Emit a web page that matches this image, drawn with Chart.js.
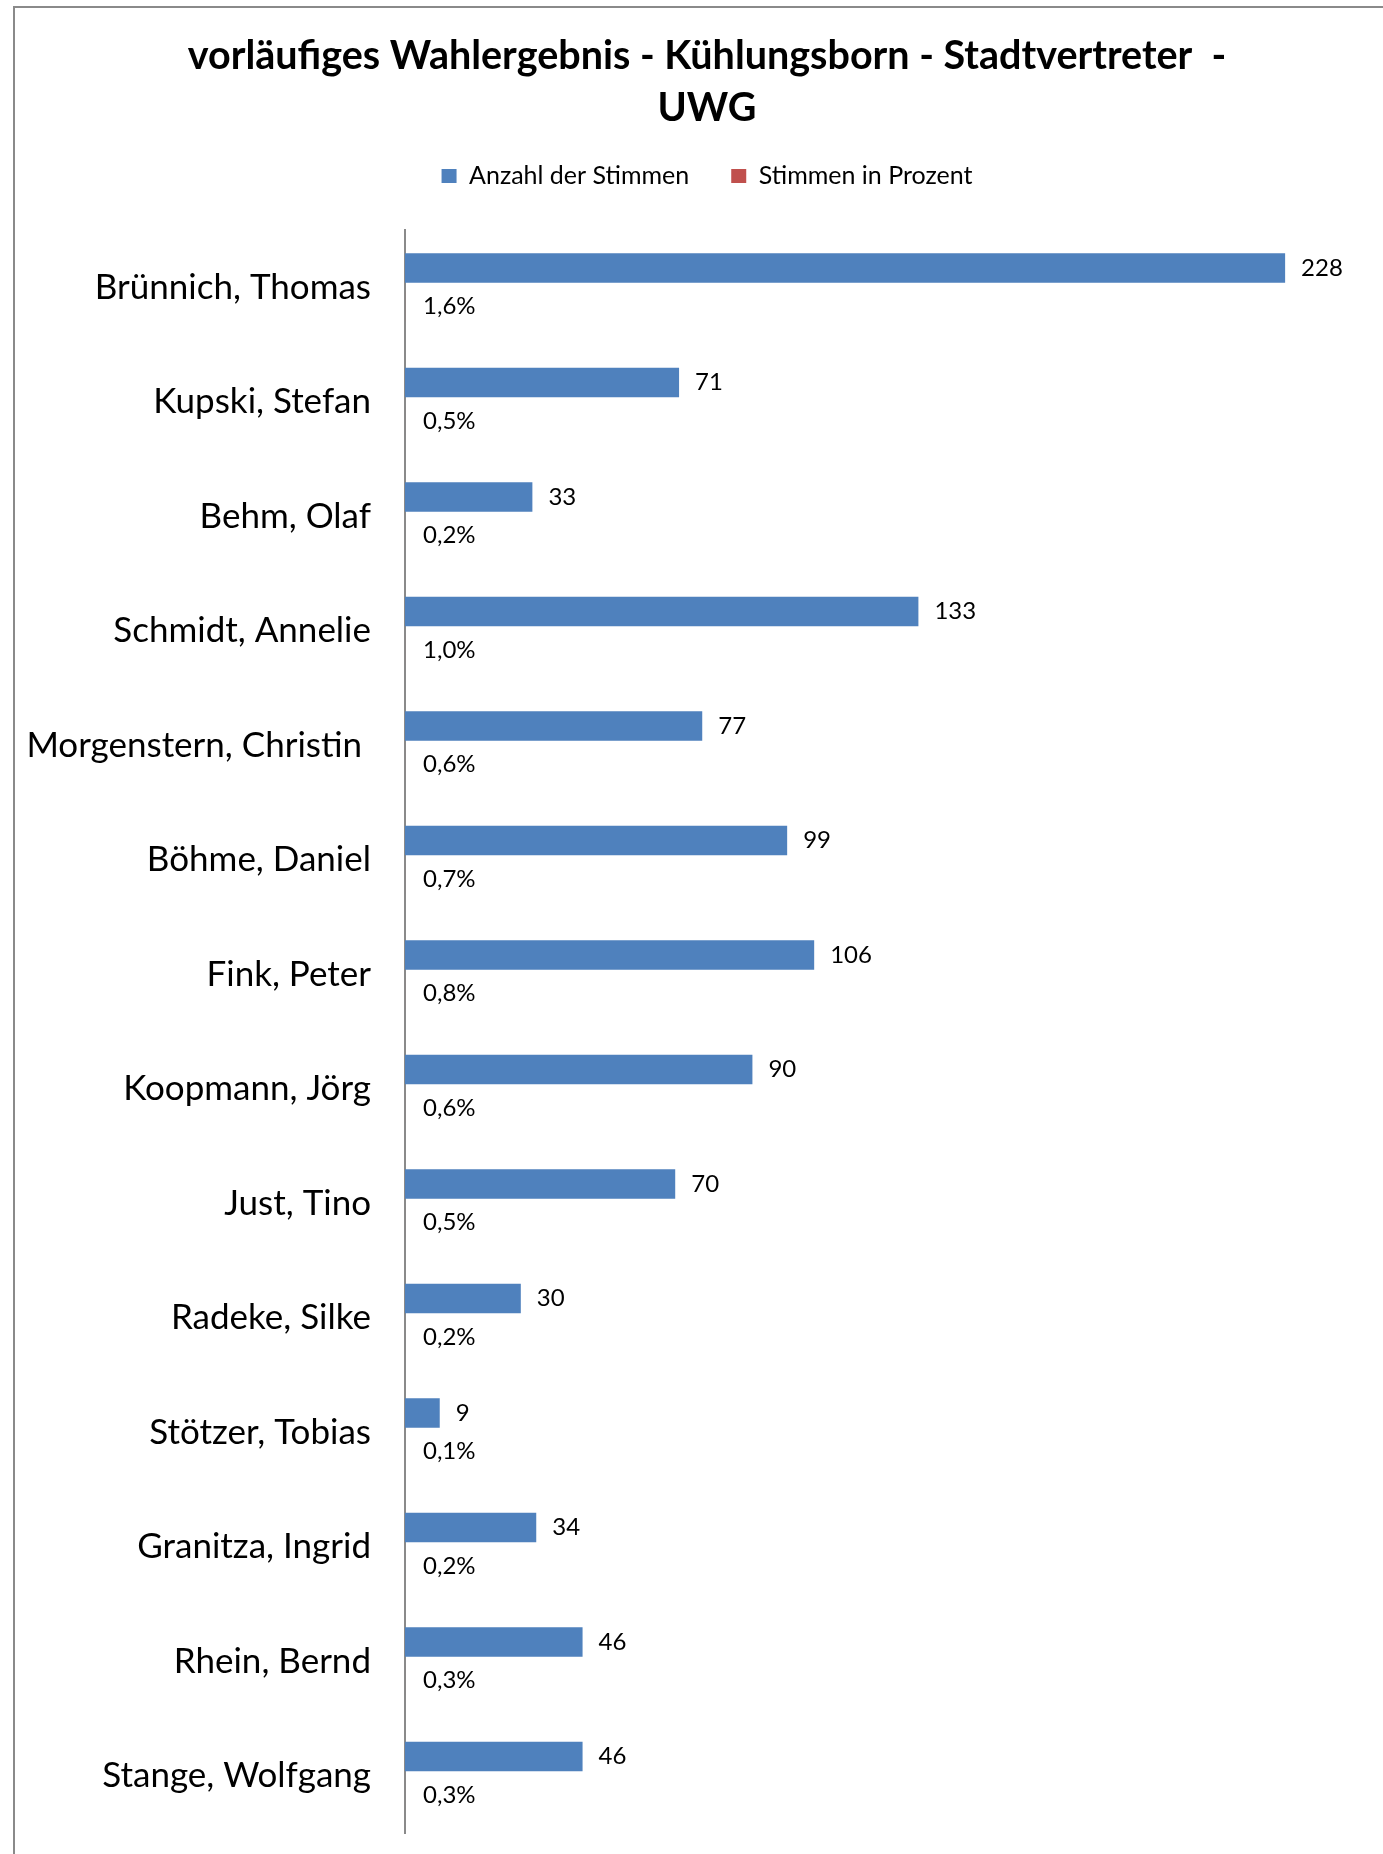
<!DOCTYPE html>
<html>
<head>
<meta charset="utf-8">
<script src="https://cdn.jsdelivr.net/npm/chart.js@4"></script>
<style>
  html, body { margin: 0; padding: 0; background: #fff; overflow: hidden; }
  #frame {
    position: absolute; left: 13px; top: 6px;
    width: 1400px; height: 1900px;
    border-left: 2px solid #8a8a8a; border-top: 2px solid #8a8a8a;
  }
  #wrap { position: absolute; left: 0; top: 0; width: 1384px; height: 1846px; }
</style>
</head>
<body>
<div id="frame"><div id="wrap"><canvas id="chart"></canvas></div></div>
<script>
const names = [
  "Brünnich, Thomas", "Kupski, Stefan", "Behm, Olaf", "Schmidt, Annelie",
  "Morgenstern, Christin ", "Böhme, Daniel", "Fink, Peter", "Koopmann, Jörg",
  "Just, Tino", "Radeke, Silke", "Stötzer, Tobias", "Granitza, Ingrid",
  "Rhein, Bernd", "Stange, Wolfgang"
];
const votes = [228, 71, 33, 133, 77, 99, 106, 90, 70, 30, 9, 34, 46, 46];
// share of votes as fraction (plotted on same axis, so bars are invisible)
const shares = [0.016, 0.005, 0.002, 0.010, 0.006, 0.007, 0.008, 0.006, 0.005, 0.002, 0.001, 0.002, 0.003, 0.003];
const titleLines = ["vorläufiges Wahlergebnis - Kühlungsborn - Stadtvertreter  -", "UWG"];

const FONT = "Lato, 'Open Sans', sans-serif";

// small plugin for the value labels
const barLabels = {
  id: "barLabels",
  afterDatasetsDraw(chart) {
    const ctx = chart.ctx;
    ctx.save();
    ctx.font = "24px " + FONT;
    ctx.fillStyle = "#000";
    ctx.textAlign = "left";
    ctx.textBaseline = "middle";
    chart.data.datasets.forEach((ds, di) => {
      const meta = chart.getDatasetMeta(di);
      meta.data.forEach((bar, i) => {
        if (di === 0) {
          ctx.fillText(String(ds.data[i]), bar.x + 16, bar.y);
        } else {
          const txt = (ds.data[i] * 100).toFixed(1).replace(".", ",") + "%";
          ctx.fillText(txt, bar.x + 18, bar.y);
        }
      });
    });
    ctx.restore();
  }
};

new Chart(document.getElementById("chart"), {
  type: "bar",
  data: {
    labels: names,
    datasets: [
      {
        label: "Anzahl der Stimmen",
        data: votes,
        backgroundColor: "#4F81BD",
        categoryPercentage: 0.672,
        barPercentage: 0.764
      },
      {
        label: "Stimmen in Prozent",
        data: shares,
        backgroundColor: "#C0504D",
        categoryPercentage: 0.672,
        barPercentage: 0.764
      }
    ]
  },
  options: {
    indexAxis: "y",
    responsive: true,
    maintainAspectRatio: false,
    animation: false,
    layout: { padding: { left: 0, right: 0, top: 0, bottom: 21 } },
    plugins: {
      title: {
        display: true,
        text: titleLines,
        color: "#000",
        font: { family: FONT, size: 39.5, weight: "bold", lineHeight: 52 / 39.5 },
        padding: { top: 22, bottom: -12.5 }
      },
      legend: {
        display: true,
        position: "top",
        labels: {
          color: "#000",
          font: { family: FONT, size: 25 },
          boxWidth: 15,
          boxHeight: 14,
          padding: 42
        }
      },
      tooltip: { enabled: false }
    },
    scales: {
      x: {
        position: "top",
        min: 0,
        max: 257.5,
        ticks: { display: false },
        grid: { display: false },
        border: { display: false },
        afterFit(s) { s.height = 31.5; }
      },
      y: {
        grid: { display: false, drawTicks: false },
        border: { display: true, color: "#8a8a8a", width: 2 },
        ticks: {
          color: "#000",
          padding: 34,
          font: { family: FONT, size: 35 }
        },
        afterFit(s) {
          s.width = 390;
          s.paddingTop = 0;
          s.paddingBottom = 0;
        }
      }
    }
  },
  plugins: [barLabels]
});
</script>
</body>
</html>
